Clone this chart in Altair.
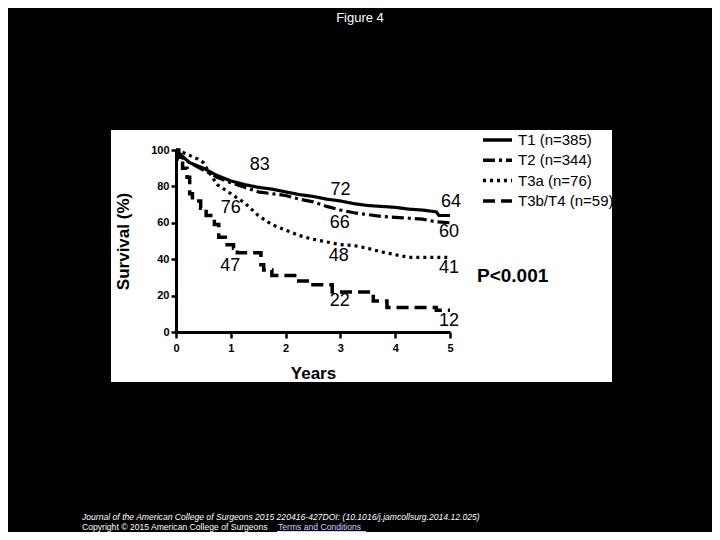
import altair as alt
import pandas as pd

groups = ["T1 (n=385)", "T2 (n=344)", "T3a (n=76)", "T3b/T4 (n=59)"]
dashes = [[1, 0], [12, 4, 3, 4], [3, 4], [12, 6]]

t1_years = [0, 0.1, 0.25, 0.5, 0.75, 1, 1.25, 1.5, 1.75, 2, 2.25, 2.5, 2.75, 3, 3.25, 3.5, 3.75, 4, 4.25, 4.5, 4.75, 4.8, 5]
t1_surv = [100, 97, 93, 90, 86, 83, 81, 79.5, 78.5, 77, 75.5, 74.5, 73, 72, 70.5, 69.5, 69, 68.5, 67.5, 67, 66, 64, 64]

t2_years = [0, 0.1, 0.25, 0.5, 0.75, 1, 1.25, 1.5, 1.75, 2, 2.25, 2.5, 2.75, 3, 3.25, 3.5, 3.75, 4, 4.25, 4.5, 4.75, 5]
t2_surv = [100, 96, 93, 89, 85, 82, 79.5, 77, 76, 75, 73, 71.5, 69, 67, 65.5, 64.5, 63.5, 63, 62.5, 62, 60.5, 60]

t3a_years = [0, 0.1, 0.25, 0.4, 0.5, 0.6, 0.75, 0.9, 1, 1.25, 1.5, 1.75, 2, 2.25, 2.5, 2.75, 3, 3.25, 3.5, 3.75, 4, 4.25, 5]
t3a_surv = [100, 99, 97, 95, 93, 88, 81, 78, 76, 71, 64, 59, 56, 53, 51, 49.5, 48, 47.5, 46, 44, 42.5, 41, 41]

t3b_years = [0, 0.05, 0.12, 0.2, 0.25, 0.3, 0.45, 0.55, 0.7, 0.78, 0.9, 1.05, 1.12, 1.55, 1.6, 1.75, 2.2, 2.5, 2.85, 3.55, 3.6, 3.85, 4.75, 5]
t3b_surv = [100, 95, 90, 85, 76, 72, 68, 64, 59, 52, 48, 46, 43.5, 37, 34, 31, 28, 26, 22, 21, 17, 13.5, 12, 12]

label_text = ["83", "76", "47", "72", "66", "48", "22", "64", "60", "41", "12"]
label_year = [1.53, 1.0, 0.99, 3.0, 2.99, 2.97, 2.99, 5.02, 4.98, 4.98, 4.98]
label_surv = [91.5, 68.4, 36, 78, 60, 41.5, 16.8, 71.7, 54.7, 34.9, 6.3]

x_ticks = [0, 1, 2, 3, 4, 5]
y_ticks = [0, 20, 40, 60, 80, 100]

FONT = "Liberation Sans"


def frame(g, ys, ss):
    return pd.DataFrame({"group": g, "year": ys, "surv": ss, "order": list(range(len(ys)))})


df_smooth = pd.concat([frame(groups[0], t1_years, t1_surv),
                       frame(groups[1], t2_years, t2_surv),
                       frame(groups[2], t3a_years, t3a_surv)])
df_step = frame(groups[3], t3b_years, t3b_surv)
df_labels = pd.DataFrame({"text": label_text, "year": label_year, "surv": label_surv})

x_enc = alt.X("year:Q", scale=alt.Scale(domain=[0, 5], nice=False),
              axis=alt.Axis(title="Years", values=x_ticks, tickCount=6, format="d", zindex=1,
                            grid=False, domainWidth=3, domainColor="black", tickWidth=2.5,
                            tickColor="black", tickSize=6, labelPadding=4, labelFontSize=11,
                            labelFontWeight="bold", labelColor="black", labelOverlap=False,
                            labelFlush=False, titleFontSize=17, titleFontWeight="bold",
                            titleColor="black", titlePadding=12))
y_enc = alt.Y("surv:Q", scale=alt.Scale(domain=[0, 100], nice=False),
              axis=alt.Axis(title="Survival (%)", values=y_ticks, tickCount=6, format="d", zindex=1,
                            grid=False, domainWidth=3, domainColor="black", tickWidth=2.5,
                            tickColor="black", tickSize=5, labelPadding=2, labelFontSize=11,
                            labelFontWeight="bold", labelColor="black", labelOverlap=False,
                            labelFlush=False, titleFontSize=17, titleFontWeight="bold",
                            titleColor="black", titlePadding=18))
dash_scale = alt.Scale(domain=groups, range=dashes)

bg = alt.Chart(alt.Data(values=[{}])).mark_rect(color="white").encode(
    x=alt.value(-65), x2=alt.value(436), y=alt.value(-20), y2=alt.value(232))

smooth = alt.Chart(df_smooth).mark_line(color="black", strokeWidth=3.2).encode(
    x=x_enc, y=y_enc, order="order:Q",
    strokeDash=alt.StrokeDash("group:N", scale=dash_scale, sort=groups, legend=None))
step = alt.Chart(df_step).mark_line(color="black", strokeWidth=3.5, interpolate="step-after").encode(
    x=x_enc, y=y_enc, order="order:Q",
    strokeDash=alt.StrokeDash("group:N", scale=dash_scale, sort=groups, legend=None))

labels = alt.Chart(df_labels).mark_text(fontSize=18, font=FONT, color="black", baseline="middle").encode(
    x=x_enc, y=y_enc, text="text:N")

# hand-drawn legend (one row per group)
legend_layers = []
for i, (g, d) in enumerate(zip(groups, dashes)):
    row_y = -10 + i * 20.3
    legend_layers.append(
        alt.Chart(alt.Data(values=[{}])).mark_rule(color="black", strokeWidth=3.5, strokeDash=d).encode(
            x=alt.value(307), x2=alt.value(336), y=alt.value(row_y)))
    legend_layers.append(
        alt.Chart(alt.Data(values=[{}])).mark_text(
            text=g, fontSize=15, font=FONT, color="black", align="left", baseline="middle").encode(
            x=alt.value(342), y=alt.value(row_y)))

pval = alt.Chart(alt.Data(values=[{}])).mark_text(
    text="P<0.001", fontSize=19, fontWeight="bold", font=FONT, color="black", align="left",
    baseline="middle").encode(x=alt.value(301), y=alt.value(126))

title = alt.Chart(alt.Data(values=[{}])).mark_text(
    text="Figure 4", fontSize=13, font=FONT, color="white", align="center",
    baseline="middle").encode(x=alt.value(184), y=alt.value(-132))

foot1 = alt.Chart(alt.Data(values=[{}])).mark_text(
    text="Journal of the American College of Surgeons 2015 220416-427DOI: (10.1016/j.jamcollsurg.2014.12.025)",
    fontSize=8.6, font=FONT, fontStyle="italic", color="white", align="left",
    baseline="middle").encode(x=alt.value(-94), y=alt.value(367))
foot2 = alt.Chart(alt.Data(values=[{}])).mark_text(
    text="Copyright © 2015 American College of Surgeons", fontSize=8.6, font=FONT,
    color="white", align="left", baseline="middle").encode(x=alt.value(-94), y=alt.value(377))
foot3 = alt.Chart(alt.Data(values=[{}])).mark_text(
    text="Terms and Conditions", fontSize=8.6, font=FONT, color="#d0d0ff", align="left",
    baseline="middle").encode(x=alt.value(102), y=alt.value(377))
underline = alt.Chart(alt.Data(values=[{}])).mark_rule(color="#d0d0ff", strokeWidth=1).encode(
    x=alt.value(101), x2=alt.value(190), y=alt.value(381.5))

chart = alt.layer(bg, smooth, step, labels, *legend_layers, pval, title, foot1, foot2, foot3,
                  underline).properties(
    width=274, height=182,
    padding={"left": 168, "top": 142, "right": 262, "bottom": 200},
    autosize=alt.AutoSizeParams(type="none"),
    background="black",
).configure_view(stroke=None).configure(font=FONT)

chart.save("out.html", embed_options={"renderer": "svg", "actions": False})
